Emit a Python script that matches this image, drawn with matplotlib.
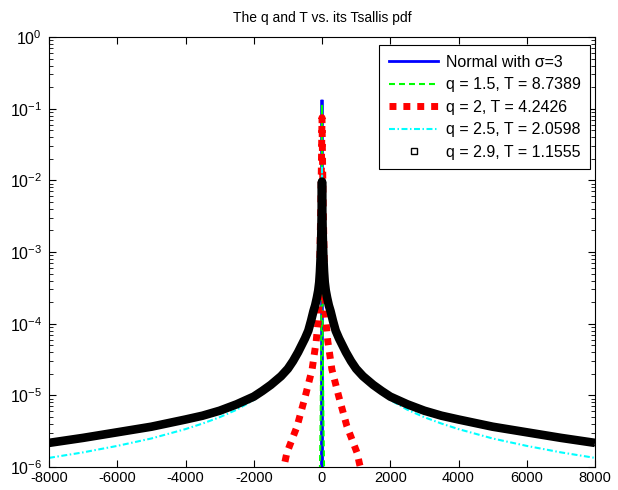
import numpy as np
import matplotlib
matplotlib.use("Agg")
import matplotlib.pyplot as plt
from matplotlib.lines import Line2D

plt.rcParams['font.family'] = ['Liberation Sans', 'DejaVu Sans']
plt.rcParams['mathtext.fontset'] = 'custom'
plt.rcParams['mathtext.rm'] = 'Liberation Sans'
plt.rcParams['mathtext.it'] = 'Liberation Sans:italic'
plt.rcParams['mathtext.default'] = 'regular'
plt.rcParams['lines.scale_dashes'] = False

# ---------------- data ----------------
title = "The q and T vs. its Tsallis pdf"
labels = ["Normal with \u03c3=3", "q = 1.5, T = 8.7389", "q = 2, T = 4.2426",
          "q = 2.5, T = 2.0598", "q = 2.9, T = 1.1555"]
xticks = [-8000, -6000, -4000, -2000, 0, 2000, 4000, 6000, 8000]

x_normal = [-15, -10, -5, 0, 5, 10, 15]
y_normal = [5.0e-7, 5.1e-4, 3.3e-2, 0.133, 3.3e-2, 5.1e-4, 5.0e-7]

x_q15 = [-100, -60, -40, -20, -10, -5, 0, 5, 10, 20, 40, 60, 100]
y_q15 = [1.3e-7, 9.9e-7, 5.0e-6, 7.7e-5, 1.05e-3, 1.01e-2, 0.11,
         1.01e-2, 1.05e-3, 7.7e-5, 5.0e-6, 9.9e-7, 1.3e-7]

x_q2 = [-1300, -1100, -1030, -730, -490, -290, -170, -100, -60, -30, -15, 0,
        15, 30, 60, 100, 170, 290, 490, 730, 1030, 1100, 1300]
y_q2 = [5.0e-7, 1.1e-6, 1.57e-6, 3.7e-6, 9.7e-6, 2.3e-5, 5.7e-5, 1.3e-4, 1.0e-3, 6.0e-3, 2.0e-2, 0.075,
        2.0e-2, 6.0e-3, 1.0e-3, 1.3e-4, 5.7e-5, 2.3e-5, 9.7e-6, 3.7e-6, 1.57e-6, 1.1e-6, 5.0e-7]

x_q25 = [-8000, -7000, -6000, -5000, -4000, -3500, -3000, -2500, -2000, -1750, -1500, -1200,
         -1000, -850, -700, -500, -400, -320, -250, -200, -150, -110, -80, -60, -40, -30,
         -20, -10, 0, 10, 20, 30, 40, 60, 80, 110, 150, 200, 250, 320, 400, 500, 700, 850,
         1000, 1200, 1500, 1750, 2000, 2500, 3000, 3500, 4000, 5000, 6000, 7000, 8000]
y_q25 = [1.34e-6, 1.6e-6, 1.97e-6, 2.5e-6, 3.38e-6, 4.04e-6, 4.95e-6, 6.3e-6, 8.6e-6, 1.05e-5, 1.33e-5, 1.78e-5,
         2.3e-5, 2.95e-5, 4.0e-5, 6.2e-5, 8.2e-5, 1.12e-4, 1.55e-4, 1.85e-4, 2.4e-4, 3.0e-4, 4.1e-4, 5.6e-4, 1.0e-3, 1.5e-3,
         2.5e-3, 6.0e-3, 1.5e-2, 6.0e-3, 2.5e-3, 1.5e-3, 1.0e-3, 5.6e-4, 4.1e-4, 3.0e-4, 2.4e-4, 1.85e-4, 1.55e-4, 1.12e-4,
         8.2e-5, 6.2e-5, 4.0e-5, 2.95e-5, 2.3e-5, 1.78e-5, 1.33e-5, 1.05e-5, 8.6e-6, 6.3e-6, 4.95e-6, 4.04e-6, 3.38e-6,
         2.5e-6, 1.97e-6, 1.6e-6, 1.34e-6]

x_q29 = [-8000, -7000, -6000, -5000, -4000, -3500, -3000, -2500, -2000, -1750, -1500, -1200,
         -1000, -850, -700, -500, -400, -320, -250, -200, -150, -110, -80, -60, -40, -30,
         -20, -10, 0, 10, 20, 30, 40, 60, 80, 110, 150, 200, 250, 320, 400, 500, 700, 850,
         1000, 1200, 1500, 1750, 2000, 2500, 3000, 3500, 4000, 5000, 6000, 7000, 8000]
y_q29 = [2.17e-6, 2.55e-6, 3.05e-6, 3.65e-6, 4.6e-6, 5.2e-6, 6.1e-6, 7.5e-6, 9.6e-6, 1.15e-5, 1.4e-5, 1.85e-5,
         2.35e-5, 3.0e-5, 4.0e-5, 6.2e-5, 8.0e-5, 1.1e-4, 1.5e-4, 1.8e-4, 2.3e-4, 2.9e-4, 3.8e-4, 5.3e-4, 8.5e-4, 1.2e-3,
         1.8e-3, 3.5e-3, 9.6e-3, 3.5e-3, 1.8e-3, 1.2e-3, 8.5e-4, 5.3e-4, 3.8e-4, 2.9e-4, 2.3e-4, 1.8e-4, 1.5e-4, 1.1e-4,
         8.0e-5, 6.2e-5, 4.0e-5, 3.0e-5, 2.35e-5, 1.85e-5, 1.4e-5, 1.15e-5, 9.6e-6, 7.5e-6, 6.1e-6, 5.2e-6, 4.6e-6,
         3.65e-6, 3.05e-6, 2.55e-6, 2.17e-6]

# ---------------- figure ----------------
W, H = 618, 490
fig = plt.figure(figsize=(W / 100, H / 100), dpi=100)
ax = fig.add_axes([49 / W, 1 - 467 / H, 546 / W, 430 / H])

l1, = ax.plot(x_normal, y_normal, color=(0, 0, 1), lw=2.0, solid_joinstyle='miter')
l2, = ax.plot(x_q15, y_q15, color=(0, 1, 0), lw=1.5, dashes=(4.3, 2.9))
l3, = ax.plot(x_q2, y_q2, color=(1, 0, 0), lw=5.0, dashes=(5.0, 5.0), dash_capstyle='butt')
l4, = ax.plot(x_q25, y_q25, color=(0, 1, 1), lw=1.5, dashes=(4.3, 1.8, 1.1, 1.8))
l5, = ax.plot(x_q29, y_q29, color='k', lw=6.2, solid_joinstyle='round', solid_capstyle='butt')

ax.set_yscale('log')
ax.set_xlim(-8000, 8000)
ax.set_ylim(1e-6, 1)
ax.set_xticks(xticks)
ax.set_xticklabels([str(t) for t in xticks])

ax.tick_params(which='both', direction='in', top=True, right=True, colors='k')
ax.tick_params(which='major', length=5, width=0.8)
ax.tick_params(which='minor', length=3, width=0.6)
ax.tick_params(axis='x', pad=3, labelsize=10.5)
ax.tick_params(axis='y', pad=5, labelsize=11.5)
for s in ax.spines.values():
    s.set_linewidth(0.8)
    s.set_color('k')

ax.set_title(title, fontsize=10, pad=11)

proxy5 = Line2D([], [], ls='none', marker='s', mfc='none', mec='k', ms=4, mew=1.0)
leg = ax.legend([l1, l2, l3, l4, proxy5], labels, loc='upper right',
                bbox_to_anchor=(0.991, 0.981), borderaxespad=0, fontsize=11.5,
                handlelength=3.1, handletextpad=0.45, labelspacing=0.47,
                borderpad=0.6, fancybox=False, framealpha=1, edgecolor='k')
leg.get_frame().set_linewidth(0.8)

fig.savefig('out.png', dpi=100)
